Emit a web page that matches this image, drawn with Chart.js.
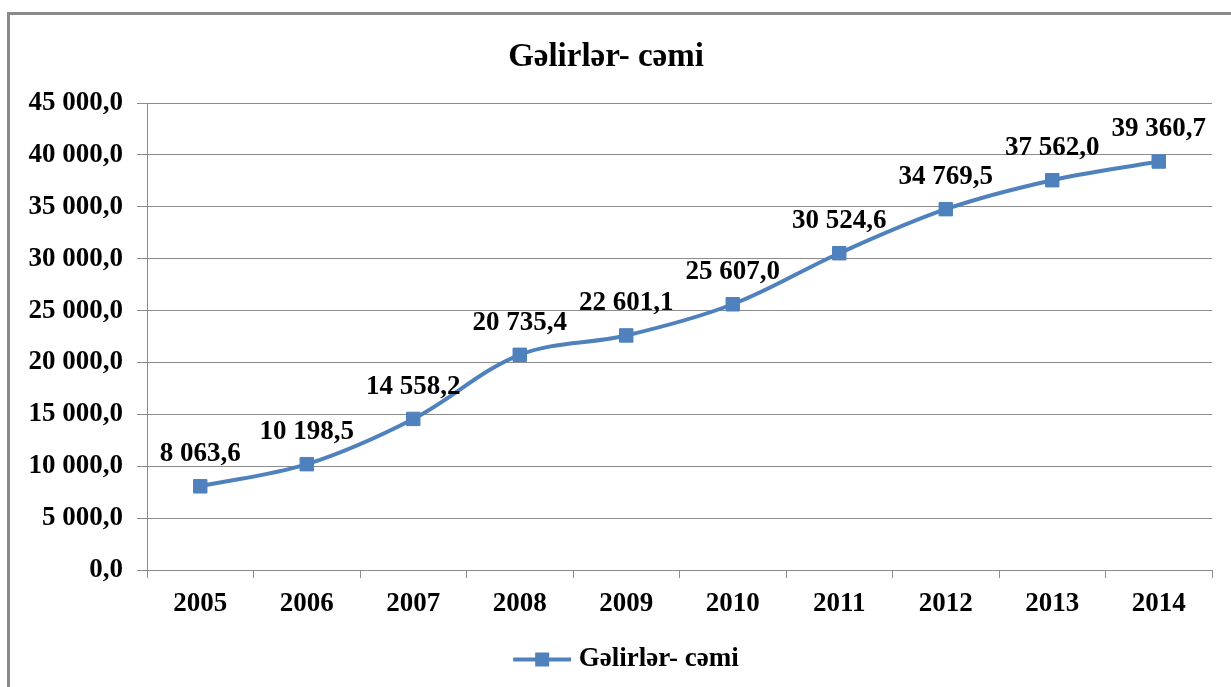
<!DOCTYPE html>
<html>
<head>
<meta charset="utf-8">
<script src="https://cdn.jsdelivr.net/npm/chart.js@4/dist/chart.umd.min.js"></script>
<style>
  html, body { margin: 0; padding: 0; background: #fff; overflow: hidden; }
  #frame {
    position: absolute; left: 7px; top: 12px; width: 1260px; height: 700px;
    border: 3px solid #8a8a8a; box-sizing: border-box;
  }
  #wrap { position: absolute; left: 0; top: 0; width: 1231px; height: 687px; }
</style>
</head>
<body>
<div id="frame"></div>
<div id="wrap"><canvas id="chart" width="1231" height="687"></canvas></div>
<script>
const years = ['2005', '2006', '2007', '2008', '2009', '2010', '2011', '2012', '2013', '2014'];
const revenue = [8063.6, 10198.5, 14558.2, 20735.4, 22601.1, 25607.0, 30524.6, 34769.5, 37562.0, 39360.7];
const seriesName = 'Gəlirlər- cəmi';
const yMin = 0;
const yMax = 45000;
const yStep = 5000;

const BLUE = '#4f81bd';
const GRID = '#8c8c8c';
const FONT = "'Liberation Serif', 'Times New Roman', serif";

// 8063.6 -> "8 063,6"
function fmt(v) {
  const [i, d] = Number(v).toFixed(1).split('.');
  return i.replace(/\B(?=(\d{3})+(?!\d))/g, ' ') + ',' + d;
}

// legend marker: line with a square in the middle (left part left blank on purpose,
// it nudges the legend to the right like in the original)
function legendMarker() {
  const c = document.createElement('canvas');
  c.width = 104; c.height = 18;
  const g = c.getContext('2d');
  g.strokeStyle = BLUE;
  g.lineWidth = 4;
  g.beginPath();
  g.moveTo(46, 9);
  g.lineTo(104, 9);
  g.stroke();
  g.fillStyle = BLUE;
  g.fillRect(68, 2, 14, 14);
  return c;
}

const valueLabels = {
  id: 'valueLabels',
  afterDatasetsDraw(chart) {
    const { ctx } = chart;
    const meta = chart.getDatasetMeta(0);
    ctx.save();
    ctx.font = `bold 27px ${FONT}`;
    ctx.fillStyle = '#000';
    ctx.textAlign = 'center';
    ctx.textBaseline = 'middle';
    meta.data.forEach((pt, i) => {
      ctx.fillText(fmt(revenue[i]), pt.x, pt.y - 32);
    });
    ctx.restore();
  },
};

const marker = legendMarker();

new Chart(document.getElementById('chart'), {
  type: 'line',
  data: {
    labels: years,
    datasets: [{
      label: seriesName,
      data: revenue,
      borderColor: BLUE,
      backgroundColor: BLUE,
      borderWidth: 4,
      tension: 0.35,
      pointStyle: 'rect',
      pointRadius: 9.5,
      pointBorderWidth: 1,
      pointBackgroundColor: BLUE,
      pointBorderColor: BLUE,
    }],
  },
  options: {
    responsive: false,
    animation: false,
    layout: { padding: { left: 0, right: 19, top: 0, bottom: 4 } },
    plugins: {
      title: {
        display: true,
        text: seriesName,
        color: '#000',
        font: { family: FONT, size: 33, weight: 'bold' },
        padding: { top: 38, bottom: 25.4 },
      },
      legend: {
        position: 'bottom',
        labels: {
          color: '#000',
          font: { family: FONT, size: 27, weight: 'bold' },
          usePointStyle: true,
          pointStyle: marker,
          pointStyleWidth: 92,
          padding: 10,
          generateLabels: () => [{
            text: seriesName,
            pointStyle: marker,
            fillStyle: BLUE,
            strokeStyle: BLUE,
            lineWidth: 0,
            datasetIndex: 0,
          }],
        },
      },
      tooltip: { enabled: false },
    },
    scales: {
      x: {
        offset: true,
        afterFit: (s) => { s.height = 66; },
        border: { display: true, color: GRID, width: 1 },
        grid: { offset: true, drawOnChartArea: false, drawTicks: true, tickLength: 8, color: GRID },
        ticks: {
          color: '#000',
          padding: 10,
          maxRotation: 0,
          font: { family: FONT, size: 27, weight: 'bold' },
        },
      },
      y: {
        min: yMin,
        max: yMax,
        afterFit: (s) => { s.width = 147; },
        border: { display: true, color: GRID, width: 1 },
        grid: { color: GRID, tickLength: 10 },
        ticks: {
          stepSize: yStep,
          color: '#000',
          padding: 14,
          font: { family: FONT, size: 27, weight: 'bold' },
          callback: (v) => fmt(v),
        },
      },
    },
  },
  plugins: [valueLabels],
});
</script>
</body>
</html>
